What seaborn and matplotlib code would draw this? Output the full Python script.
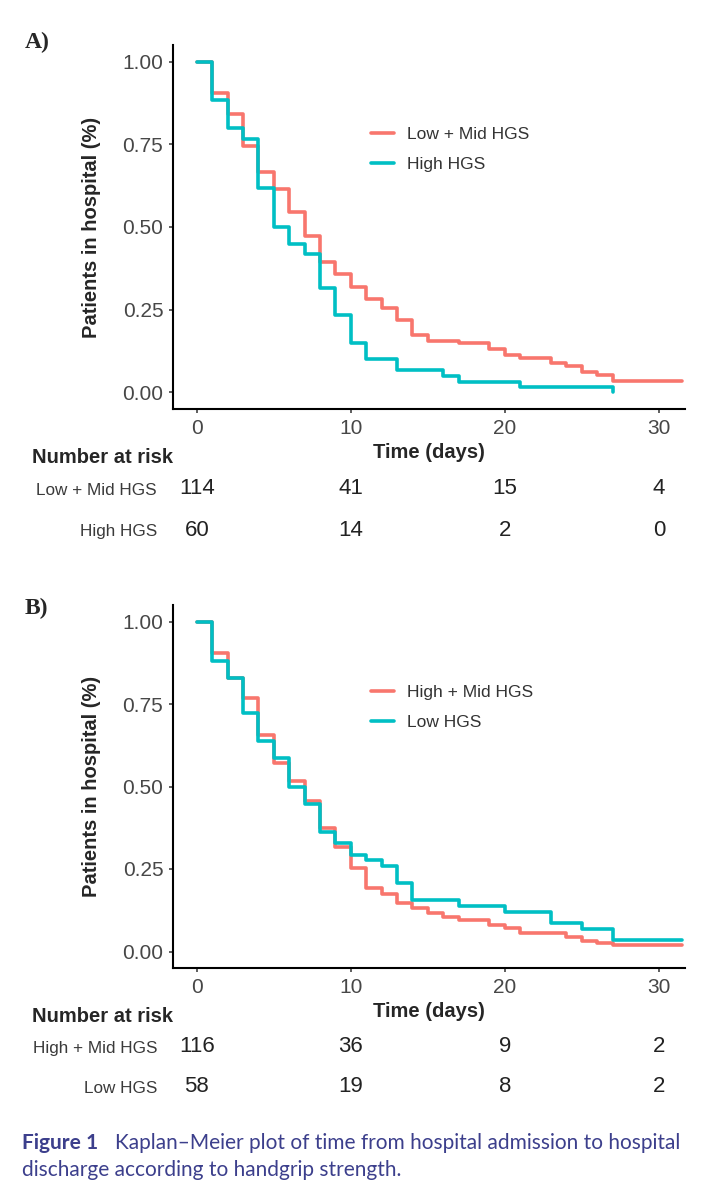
import numpy as np
import pandas as pd
import matplotlib
matplotlib.use("Agg")
import matplotlib.pyplot as plt
from matplotlib.lines import Line2D
from matplotlib.ticker import FormatStrFormatter
import seaborn as sns

# ---- values ----
# Panel A: Low + Mid HGS vs High HGS
a_groups = ["Low + Mid HGS", "High HGS"]
a_lowmid_t = [0, 1, 2, 3, 4, 5, 6, 7, 8, 9, 10, 11, 12, 13, 14, 15, 17, 19, 20, 21, 23, 24, 25, 26, 27, 31.5]
a_lowmid_s = [1.0, 0.904, 0.842, 0.745, 0.667, 0.614, 0.544, 0.474, 0.395, 0.358, 0.320, 0.281, 0.254, 0.218, 0.175,
              0.157, 0.149, 0.132, 0.114, 0.105, 0.088, 0.079, 0.061, 0.052, 0.036, 0.036]
a_high_t = [0, 1, 2, 3, 4, 5, 6, 7, 8, 9, 10, 11, 13, 16, 17, 21, 27]
a_high_s = [1.0, 0.883, 0.800, 0.767, 0.617, 0.500, 0.450, 0.417, 0.317, 0.233, 0.150, 0.100, 0.067, 0.050, 0.033,
            0.017, 0.0]
a_risk_lowmid = [114, 41, 15, 4]
a_risk_high = [60, 14, 2, 0]

# Panel B: High + Mid HGS vs Low HGS
b_groups = ["High + Mid HGS", "Low HGS"]
b_highmid_t = [0, 1, 2, 3, 4, 5, 6, 7, 8, 9, 10, 11, 12, 13, 14, 15, 16, 17, 19, 20, 21, 24, 25, 26, 27, 31.5]
b_highmid_s = [1.0, 0.906, 0.829, 0.768, 0.655, 0.571, 0.516, 0.456, 0.373, 0.317, 0.252, 0.191, 0.174, 0.148, 0.131,
               0.116, 0.106, 0.096, 0.081, 0.070, 0.055, 0.043, 0.033, 0.027, 0.020, 0.020]
b_low_t = [0, 1, 2, 3, 4, 5, 6, 7, 8, 9, 10, 11, 12, 13, 14, 17, 20, 23, 25, 27, 31.5]
b_low_s = [1.0, 0.879, 0.828, 0.724, 0.638, 0.586, 0.500, 0.448, 0.362, 0.328, 0.293, 0.276, 0.259, 0.207, 0.155,
           0.138, 0.121, 0.086, 0.069, 0.034, 0.034]
b_risk_highmid = [116, 36, 9, 2]
b_risk_low = [58, 19, 8, 2]

risk_times = [0, 10, 20, 30]
x_ticks = [0, 10, 20, 30]
y_ticks = [0.0, 0.25, 0.50, 0.75, 1.00]

RED = "#F8766D"
TEAL = "#00BFC4"

sns.set_theme(style="white")
plt.rcParams["font.family"] = ["Liberation Sans", "DejaVu Sans"]

W, H = 724, 1200
fig = plt.figure(figsize=(W / 100, H / 100), dpi=100)
fig.patch.set_facecolor("white")


def px_rect(left, top, right, bottom):
    return [left / W, 1 - bottom / H, (right - left) / W, (bottom - top) / H]


def draw_panel(df, groups, risks, main_px, table_px, legend_px, letter, letter_y):
    ax = fig.add_axes(px_rect(*main_px))
    sns.lineplot(data=df, x="time", y="surv", hue="group", hue_order=groups,
                 palette=[RED, TEAL], drawstyle="steps-post", linewidth=2.6,
                 estimator=None, legend=False, ax=ax)
    ax.set_xlim(-1.55, 31.7)
    ax.set_ylim(-0.05, 1.05)
    ax.set_xticks(x_ticks)
    ax.set_yticks(y_ticks)
    ax.yaxis.set_major_formatter(FormatStrFormatter("%.2f"))
    sns.despine(ax=ax)
    for s in ["left", "bottom"]:
        ax.spines[s].set_linewidth(1.5)
        ax.spines[s].set_color("black")
    ax.tick_params(axis="both", direction="out", length=3, width=1.1, color="#333333",
                   labelsize=15, labelcolor="#474747", left=True, bottom=True)
    ax.tick_params(axis="x", pad=4)
    ax.tick_params(axis="y", pad=4)
    ax.set_xlabel("Time (days)", fontsize=14.5, fontweight="bold", labelpad=4)
    ax.set_ylabel("Patients in hospital (%)", fontsize=14.5, fontweight="bold", labelpad=15)

    handles = [Line2D([], [], color=c, linewidth=2.6) for c in [RED, TEAL]]
    lx, ly = legend_px
    ax.legend(handles, groups, loc="upper left", bbox_to_anchor=(lx / W, 1 - ly / H),
              bbox_transform=fig.transFigure, frameon=False, fontsize=12.5,
              borderpad=0, borderaxespad=0, handlelength=1.3, handletextpad=0.8,
              labelspacing=0.85, labelcolor="#333333")

    # risk table
    tab = fig.add_axes(px_rect(*table_px))
    tab.set_xlim(ax.get_xlim())
    tab.set_ylim(1.5, -0.5)
    for row, counts in enumerate(risks):
        for t, n in zip(risk_times, counts):
            tab.text(t, row, str(n), ha="center", va="center", fontsize=16, color="#222222")
    tab.set_yticks([0, 1])
    tab.set_yticklabels(groups, fontsize=12.3, color="#3a3a3a")
    tab.set_xticks([])
    tab.tick_params(axis="y", length=0, pad=11.5)
    for s in tab.spines.values():
        s.set_visible(False)
    tab.patch.set_alpha(0)

    fig.text(32 / W, 1 - (table_px[1] - 11) / H, "Number at risk", fontsize=14.5,
             fontweight="bold", ha="left", va="center")
    fig.text(25 / W, 1 - letter_y / H, letter, fontsize=17, fontweight="bold",
             family=["Liberation Serif", "DejaVu Serif"], ha="left", va="center")
    return ax


df_a = pd.concat([
    pd.DataFrame({"time": a_lowmid_t, "surv": a_lowmid_s, "group": a_groups[0]}),
    pd.DataFrame({"time": a_high_t, "surv": a_high_s, "group": a_groups[1]}),
])
df_b = pd.concat([
    pd.DataFrame({"time": b_highmid_t, "surv": b_highmid_s, "group": b_groups[0]}),
    pd.DataFrame({"time": b_low_t, "surv": b_low_s, "group": b_groups[1]}),
])

draw_panel(df_a, a_groups, [a_risk_lowmid, a_risk_high],
           (173, 45, 685, 409), (173, 468.5, 685, 550.5), (371, 127), "A)", 42)
draw_panel(df_b, b_groups, [b_risk_highmid, b_risk_low],
           (173, 605, 685, 968), (173, 1027, 685, 1107), (371, 685), "B)", 608)

# caption
cap_color = "#3c3f8c"
cap_fam = ["Lato", "DejaVu Sans"]
line2 = fig.text(22 / W, 1 - 1170 / H, "discharge according to handgrip strength.",
                 fontsize=14, family=cap_fam, color=cap_color, ha="left", va="center")
fig.canvas.draw()
w2 = line2.get_window_extent().width
cap_size = 14 * 381 / w2
line2.set_fontsize(cap_size)
t1 = fig.text(22 / W, 1 - 1143 / H, "Figure 1", fontsize=cap_size, fontweight="bold",
              family=cap_fam, color=cap_color, ha="left", va="center")
fig.canvas.draw()
x2 = t1.get_window_extent().x1 + 17
fig.text(x2 / W, 1 - 1143 / H, "Kaplan\u2013Meier plot of time from hospital admission to hospital",
         fontsize=cap_size, family=cap_fam, color=cap_color, ha="left", va="center")

fig.savefig("out.png", dpi=100, facecolor="white")
